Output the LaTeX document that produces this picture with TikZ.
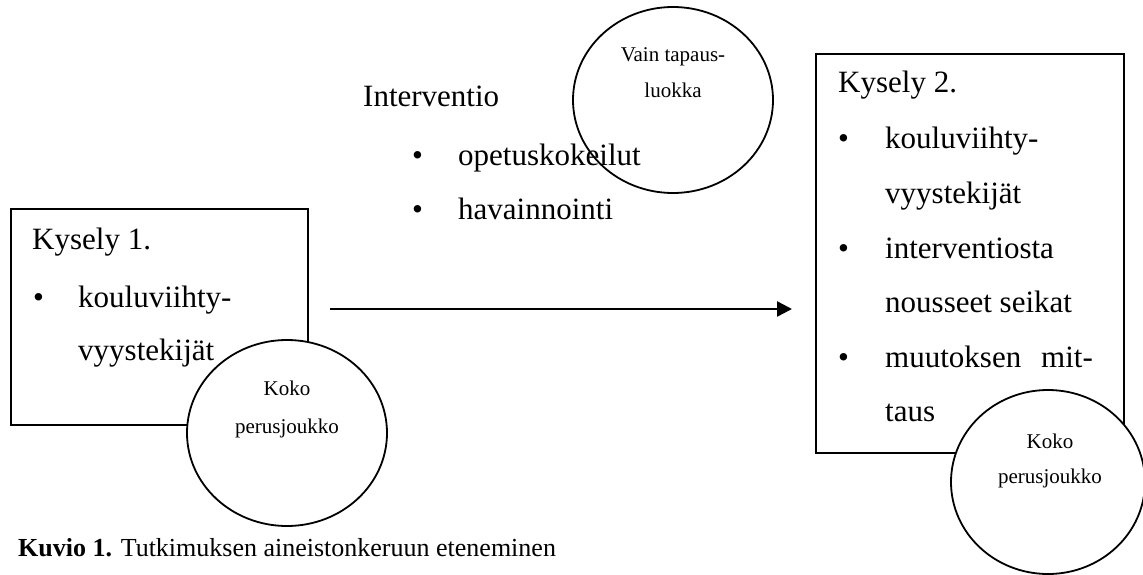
\documentclass[tikz,border=0pt]{standalone}
\usepackage{fontspec}
\setmainfont{Liberation Serif}
\usetikzlibrary{arrows.meta, shapes.geometric}

\begin{document}
\begin{tikzpicture}[x=1pt, y=-1pt,
    every node/.style={inner sep=0pt},
    txt/.style={font=\fontsize{31}{37}\selectfont, anchor=base west},
    small/.style={font=\fontsize{21}{25}\selectfont, anchor=base},
    box/.style={draw, line width=1.8pt, anchor=north west},
    ring/.style={draw, ellipse, line width=1.8pt, minimum width=200pt, minimum height=186pt}]
    \useasboundingbox (0,0) rectangle (1143,575);

    \node[box, minimum width=297pt, minimum height=216pt] (kysely1) at (10,208) {};
    \node[txt] (k1title) at (32,249) {Kysely 1.};
    \node[txt] (k1b1) at (33,307) {\textbullet};
    \node[txt] (k1i1) at (78,307) {kouluviihty-};
    \node[txt] (k1i1b) at (78,360) {vyystekijät};
    \node[ring, fill=white] (koko1) at (287,433) {};
    \node[small] (koko1a) at (287,395) {Koko};
    \node[small] (koko1b) at (287,433) {perusjoukko};

    \node[txt] (interv) at (363,107) {Interventio};
    \node[txt] (ib1) at (412,165) {\textbullet};
    \node[txt] (opet) at (458,165) {opetuskokeilut};
    \node[txt] (ib2) at (412,219) {\textbullet};
    \node[txt] (hav) at (458,219) {havainnointi};
    \node[ring] (tapaus) at (673,100) {};
    \node[small] (tapausa) at (673,62) {Vain tapaus-};
    \node[small] (tapausb) at (673,98) {luokka};

    \coordinate (from) at (330,309);
    \coordinate (to) at (792,309);
    \draw[-{Triangle[length=15pt,width=15pt]}, line width=2.5pt] (from) -- (to);

    \node[box, minimum width=308pt, minimum height=399pt] (kysely2) at (815,53) {};
    \node[txt] (k2title) at (838,93) {Kysely 2.};
    \node[txt] (k2b1) at (838,149) {\textbullet};
    \node[txt] (k2i1) at (885,149) {kouluviihty-};
    \node[txt] (k2i1b) at (885,203) {vyystekijät};
    \node[txt] (k2b2) at (838,258) {\textbullet};
    \node[txt] (k2i2) at (885,258) {interventiosta};
    \node[txt] (k2i2b) at (885,312) {nousseet seikat};
    \node[txt] (k2b3) at (838,367) {\textbullet};
    \node[txt] (k2i3) at (885,367) {muutoksen};
    \node[txt, anchor=base east] (k2i3m) at (1093,367) {mit-};
    \node[txt] (k2i3b) at (885,421) {taus};
    \node[ring, fill=white, minimum width=194pt, minimum height=184pt] (koko2) at (1048,482) {};
    \node[small] (koko2a) at (1050,448) {Koko};
    \node[small] (koko2b) at (1050,483) {perusjoukko};

    \node[anchor=base west, font=\fontsize{26}{31}\selectfont] (kuvio) at (18,556) {\textbf{Kuvio 1.} Tutkimuksen aineistonkeruun eteneminen};
\end{tikzpicture}
\end{document}
